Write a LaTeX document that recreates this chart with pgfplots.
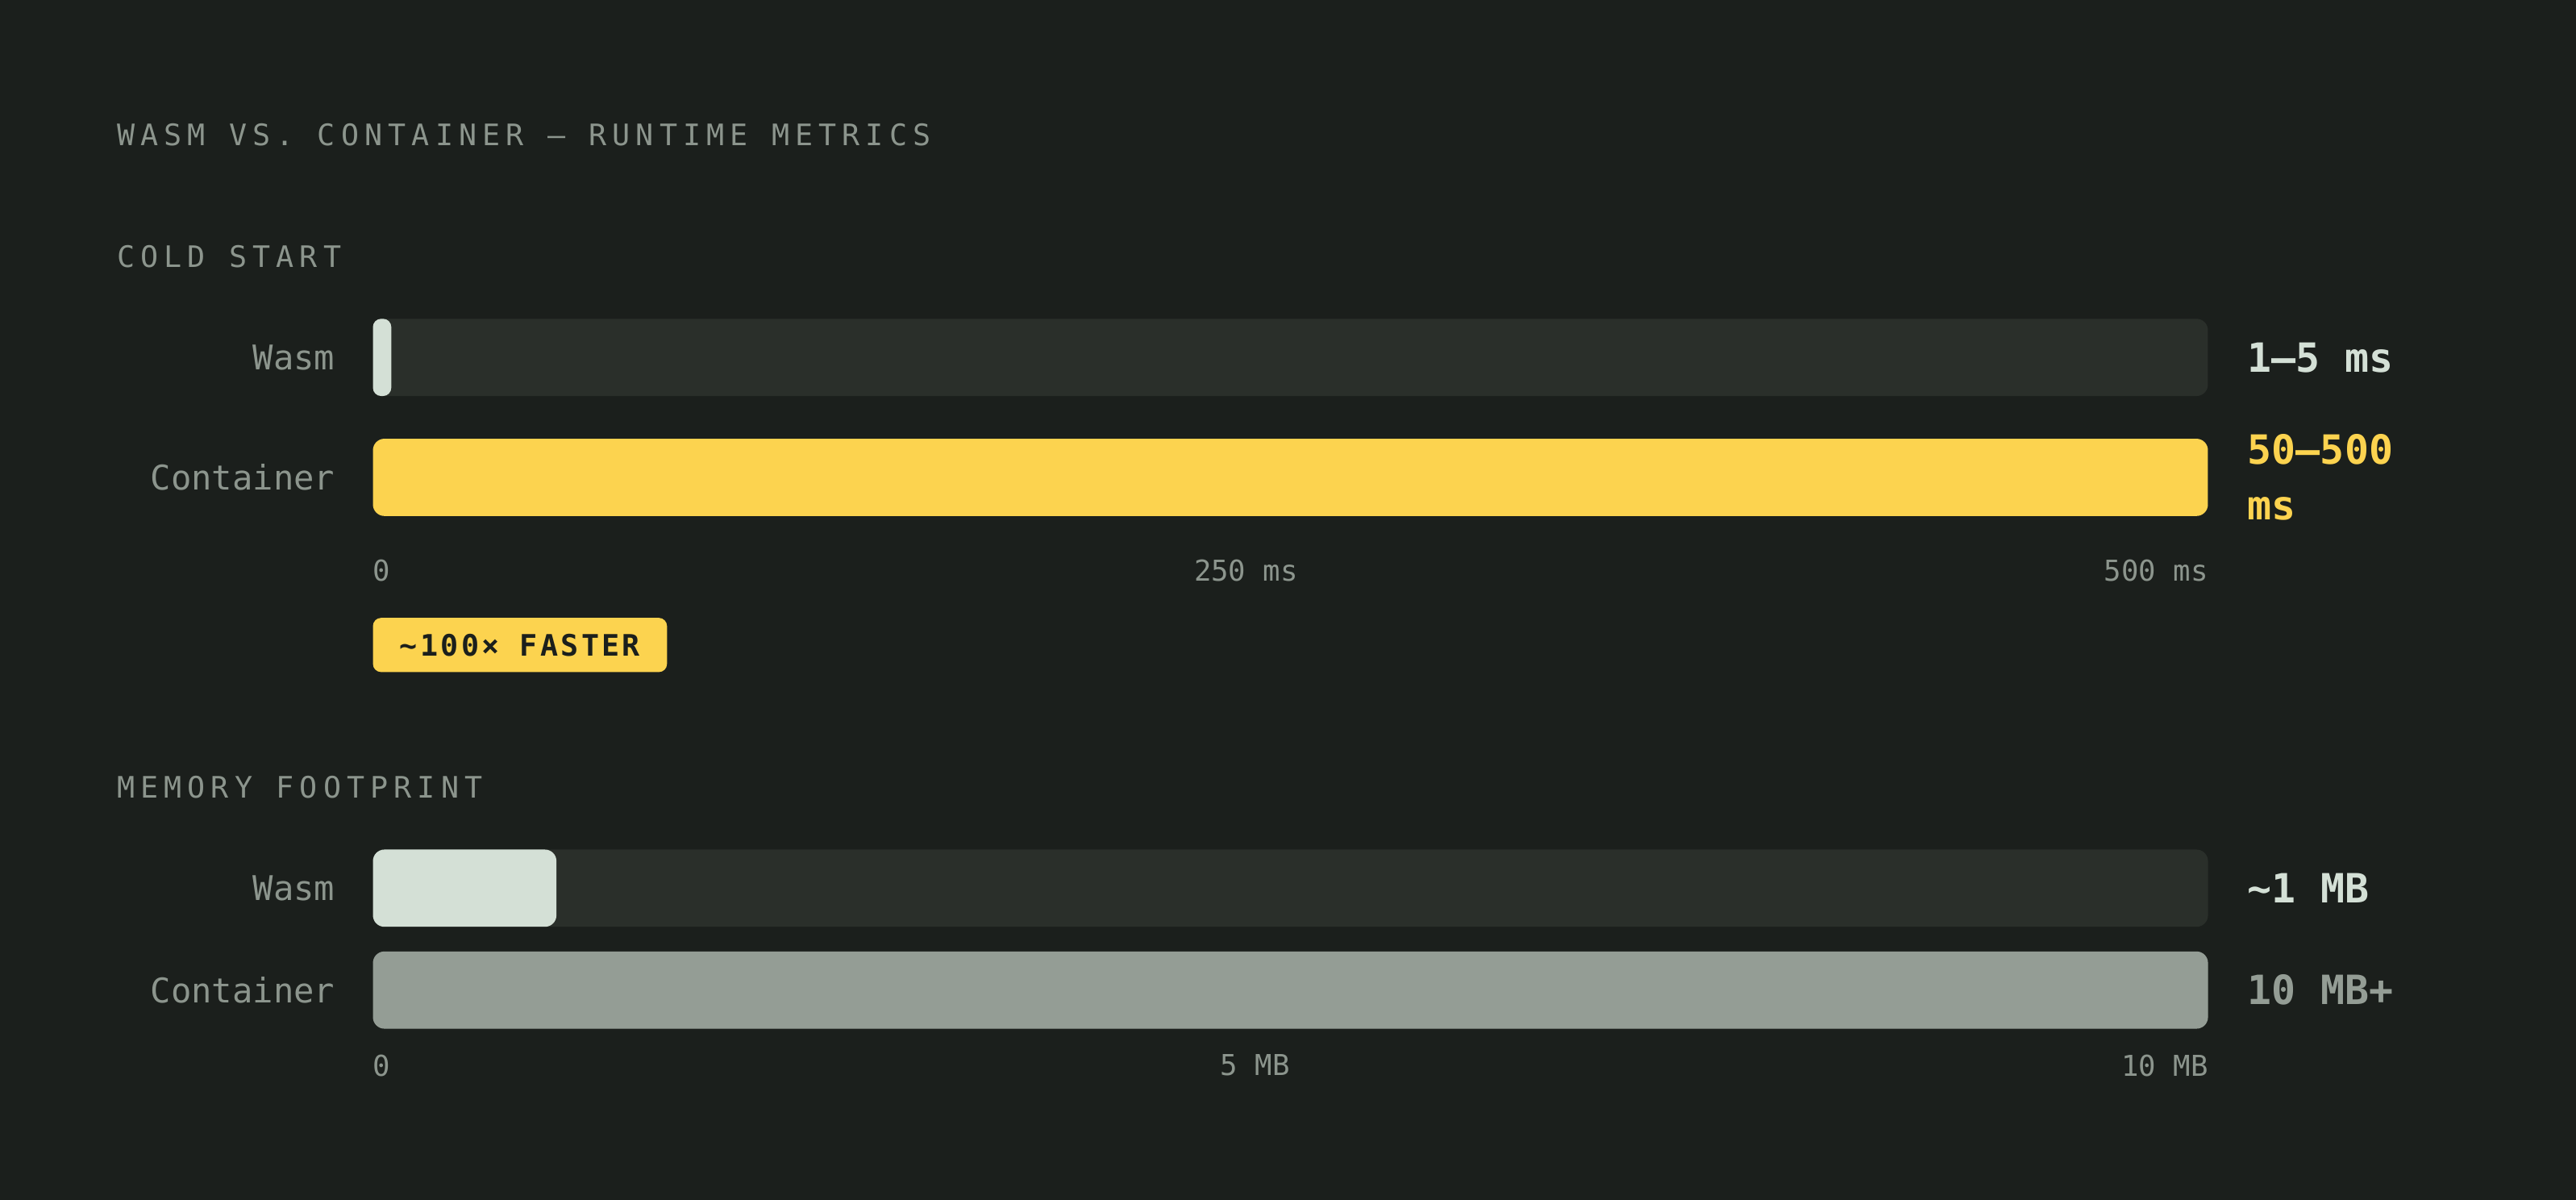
\documentclass[border=0pt]{standalone}
\usepackage{fontspec}
\usepackage{pgfplots}
\pgfplotsset{compat=1.18}

\newfontfamily\mono{DejaVu Sans Mono}
\newfontfamily\monosp[LetterSpace=19.5]{DejaVu Sans Mono}
\newfontfamily\monobd[LetterSpace=9]{DejaVu Sans Mono}

\definecolor{bg}{HTML}{1B1F1C}
\definecolor{track}{HTML}{2A2F2A}
\definecolor{pale}{HTML}{D4E0D6}
\definecolor{gold}{HTML}{FCD34F}
\definecolor{slate}{HTML}{949D95}
\definecolor{muted}{HTML}{8C958D}

\pgfplotsset{
  rowbars/.style={
    scale only axis,
    width=1117pt,
    anchor=south west,
    axis lines=left,
    axis line style={draw=none},
    tick style={draw=none},
    major tick length=0pt,
    enlargelimits=false,
    clip=false,
    xmin=0,
    xticklabel style={font=\mono\fontsize{17.5}{20}\selectfont, text=muted, inner sep=0pt, anchor=north},
    yticklabel style={font=\mono\fontsize{20.7}{24}\selectfont, text=muted, inner sep=0pt, anchor=east, xshift=-23pt},
  },
  hbar/.style={xbar, bar width=47pt, bar shift=0pt, draw=none},
}
\tikzset{
  val/.style={anchor=west, xshift=24pt, inner sep=0pt, font=\mono\bfseries\fontsize{24.5}{34}\selectfont},
  head/.style={anchor=west, inner sep=0pt, text=muted, font=\monosp\fontsize{18}{22}\selectfont},
}

\begin{document}
\begin{tikzpicture}[x=1pt, y=1pt]
\fill[bg] (0,-730.25) rectangle (1568,0);
\useasboundingbox (0,-730.25) rectangle (1568,0);

\node[head] at (71,-82) {WASM VS. CONTAINER — RUNTIME METRICS};
\node[head] at (71,-156) {COLD START};
\node[head] at (71,-479) {MEMORY FOOTPRINT};

% cold start, ms
\begin{axis}[rowbars,
  at={(227pt,-340.6pt)},
  height=150.6pt, ymin=-340.6, ymax=-190,
  xmax=500,
  xtick={0,237.9,500},
  xticklabels={\makebox[0pt][l]{0}, 250 ms, \makebox[0pt][r]{500 ms}},
  ytick={-290.5,-217.5},
  yticklabels={Container, Wasm},
]
\addplot[hbar, fill=track, rounded corners=7pt] coordinates {(500,-217.5) (500,-290.5)};
\addplot[hbar, fill=pale, rounded corners=5pt] coordinates {(5,-217.5)};
\addplot[hbar, fill=gold, rounded corners=7pt] coordinates {(500,-290.5)};
\node[val, text=pale] at (axis cs:500,-217.5) {1–5 ms};
\node[val, text=gold, align=left] at (axis cs:500,-290.5) {50–500\\ms};
\end{axis}

\node[fill=gold, rounded corners=5pt, minimum width=179pt, minimum height=33pt, inner sep=0pt,
  text=bg, font=\monobd\bfseries\fontsize{18}{22}\selectfont]
  at (316.5,-392.5) {\textasciitilde 100× FASTER};

% memory, MB
\begin{axis}[rowbars,
  at={(227pt,-641.6pt)},
  height=141.6pt, ymin=-641.6, ymax=-500,
  xmax=10,
  xtick={0,4.808,10},
  xticklabels={\makebox[0pt][l]{0}, 5 MB, \makebox[0pt][r]{10 MB}},
  ytick={-602.5,-540.5},
  yticklabels={Container, Wasm},
]
\addplot[hbar, fill=track, rounded corners=7pt] coordinates {(10,-540.5) (10,-602.5)};
\addplot[hbar, fill=pale, rounded corners=7pt] coordinates {(1,-540.5)};
\addplot[hbar, fill=slate, rounded corners=7pt] coordinates {(10,-602.5)};
\node[val, text=pale] at (axis cs:10,-540.5) {\textasciitilde 1 MB};
\node[val, text=slate] at (axis cs:10,-602.5) {10 MB+};
\end{axis}
\end{tikzpicture}
\end{document}
